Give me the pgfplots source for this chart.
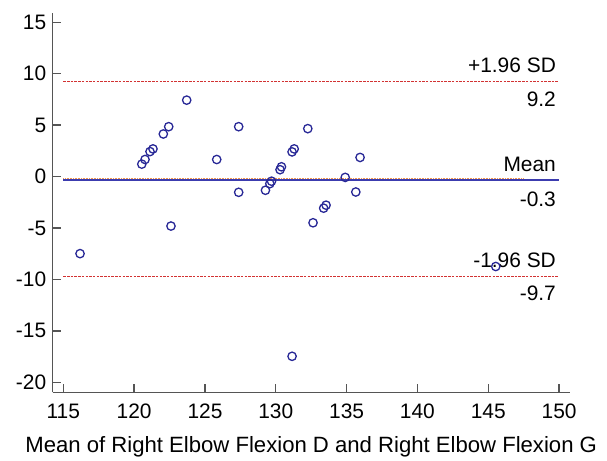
\documentclass[border=0pt]{standalone}
\usepackage{pgfplots}
\pgfplotsset{compat=1.18}
\usepackage{fontspec}
\setmainfont{Liberation Sans}
\definecolor{ptblue}{RGB}{40,40,150}
\definecolor{meanblue}{RGB}{60,60,175}
\definecolor{sdred}{RGB}{210,50,50}
\definecolor{zorange}{RGB}{240,150,80}
\definecolor{axgray}{RGB}{85,85,85}
\newcommand{\lf}{\fontsize{21}{25}\selectfont}
\begin{document}
\begin{tikzpicture}
\begin{axis}[
  at={(0,0)}, anchor=south west,
  scale only axis, width=517bp, height=379.6bp,
  xmin=114.25, xmax=150.75, ymin=-20.97, ymax=15.93,
  axis x line*=bottom, axis y line*=left,
  axis line style={-, axgray, line width=1.5bp},
  xtick={115,120,...,150}, ytick={-20,-15,...,15},
  tick align=inside, major tick length=8bp,
  tick style={axgray, line width=1.3bp},
  /pgf/number format/assume math mode=true,
  ticklabel style={font=\lf},
  xticklabel style={yshift=-8bp},
  yticklabel style={xshift=-3bp},
  xlabel={Mean of Right Elbow Flexion D and Right Elbow Flexion G},
  xlabel style={font=\fontsize{22.2}{26}\selectfont, yshift=-11bp},
  clip=false,
]
\addplot[sdred, line width=1.1bp, dash pattern=on 2.5bp off 1.2bp] coordinates {(115,9.25) (150,9.25)};
\addplot[sdred, line width=1.1bp, dash pattern=on 2.5bp off 1.2bp] coordinates {(115,-9.7) (150,-9.7)};
\addplot[meanblue, line width=2bp] coordinates {(115,-0.3) (150,-0.3)};
\addplot[zorange, line width=0.8bp, dash pattern=on 1bp off 0.6bp] coordinates {(115,-0.13) (147.5,-0.13)};
\addplot[only marks, mark=o, mark size=4.2bp, ptblue, mark options={line width=1.3bp}] coordinates {
(116.18,-7.49)
(120.54,1.21)
(120.77,1.66)
(121.12,2.43)
(121.33,2.69)
(122.06,4.14)
(122.44,4.85)
(122.6,-4.81)
(123.71,7.43)
(125.83,1.66)
(127.38,4.85)
(127.38,-1.53)
(129.27,-1.33)
(129.58,-0.69)
(129.7,-0.45)
(130.3,0.67)
(130.4,0.95)
(131.15,2.4)
(131.3,2.69)
(132.26,4.66)
(132.63,-4.49)
(133.38,-3.07)
(133.55,-2.78)
(134.9,-0.08)
(135.65,-1.5)
(135.95,1.86)
(131.15,-17.47)
(145.53,-8.74)
};
\node[anchor=base east, inner sep=0pt, yshift=9bp, xshift=-3bp, font=\lf] at (axis cs:150,9.2) {+1.96 SD};
\node[anchor=north east, inner sep=0pt, yshift=-10bp, xshift=-3bp, font=\lf] at (axis cs:150,9.2) {9.2};
\node[anchor=base east, inner sep=0pt, yshift=8bp, xshift=-3bp, font=\lf] at (axis cs:150,-0.3) {Mean};
\node[anchor=north east, inner sep=0pt, yshift=-12bp, xshift=-3bp, font=\lf] at (axis cs:150,-0.3) {-0.3};
\node[anchor=base east, inner sep=0pt, yshift=8.5bp, xshift=-3bp, font=\lf] at (axis cs:150,-9.7) {-1.96 SD};
\node[anchor=north east, inner sep=0pt, yshift=-9bp, xshift=-3bp, font=\lf] at (axis cs:150,-9.7) {-9.7};
\end{axis}
\useasboundingbox (-52.7bp,-65.7bp) rectangle (554.3bp,392.3bp);
\end{tikzpicture}
\end{document}
